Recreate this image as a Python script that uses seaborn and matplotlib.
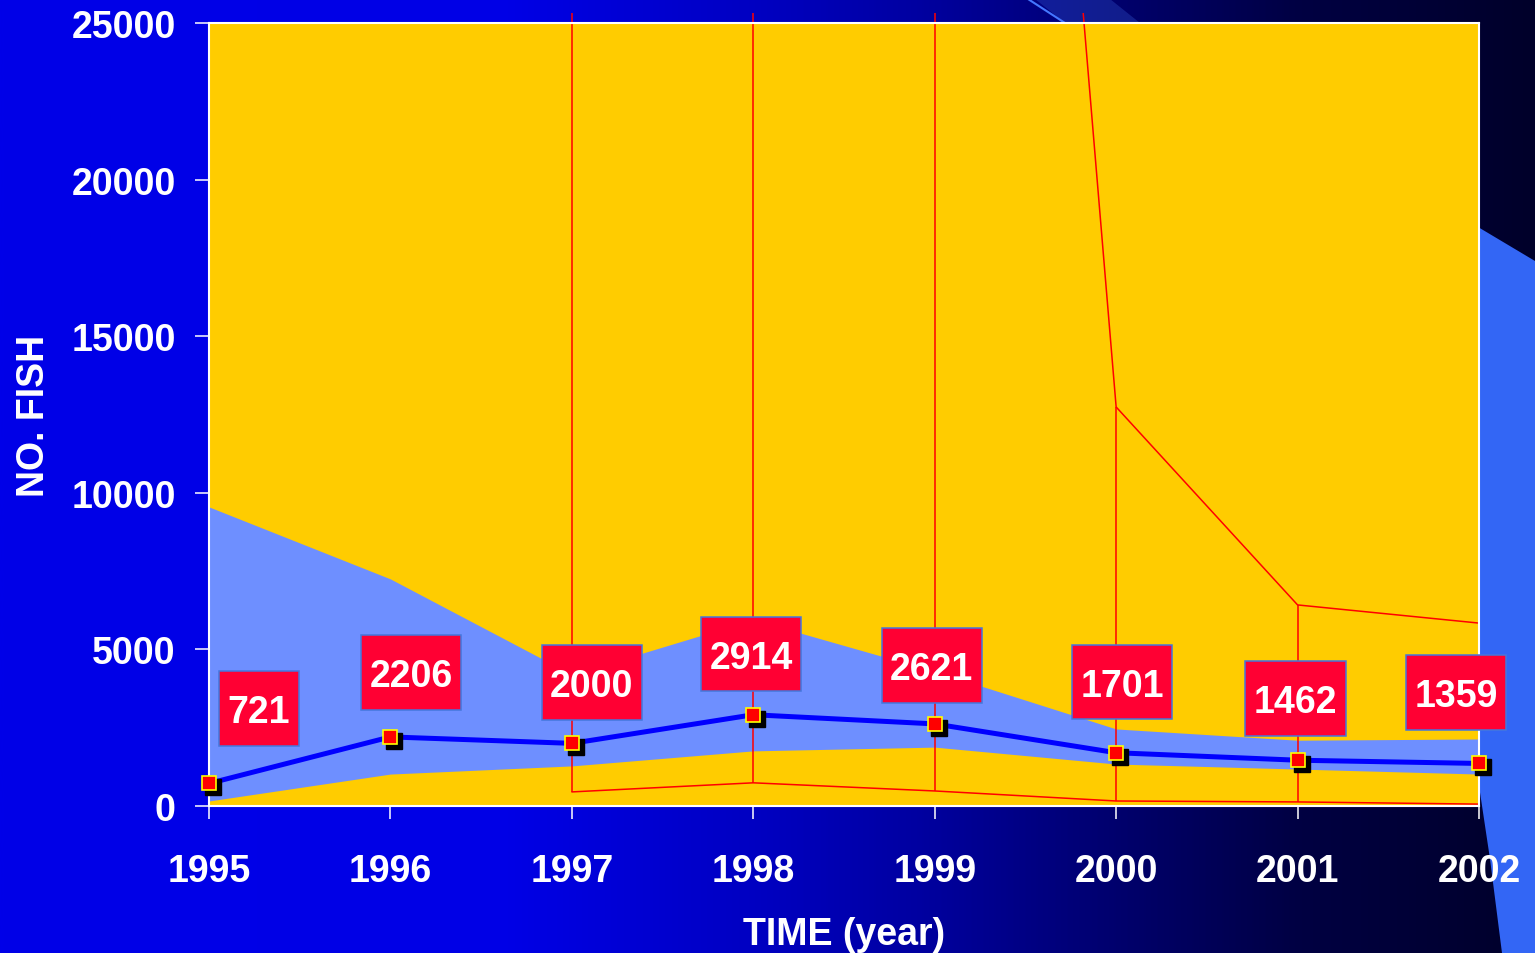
import numpy as np
import matplotlib
matplotlib.use("Agg")
import matplotlib.pyplot as plt
import seaborn as sns
from matplotlib.colors import LinearSegmentedColormap
from matplotlib.patches import Rectangle, Polygon
from matplotlib.path import Path
from matplotlib.transforms import offset_copy

# --- data ---
years = [1995, 1996, 1997, 1998, 1999, 2000, 2001, 2002]
fish = [721, 2206, 2000, 2914, 2621, 1701, 1462, 1359]
band_upper = [9550, 7250, 4200, 5950, 4300, 2460, 2100, 2140]
band_lower = [160, 1020, 1280, 1760, 1880, 1340, 1180, 1020]
red_years = [1997, 1998, 1999, 2000, 2001, 2002]
red_upper = [60000, 70000, 82000, 12740, 6420, 5840]
red_lower = [450, 740, 480, 160, 130, 60]
y_ticks = [0, 5000, 10000, 15000, 20000, 25000]

# label box offsets in pixels from each point (layout only)
label_offsets = [(50, 71), (21, 61), (20, 57), (-2, 57), (-3, 55), (6, 67), (-2, 58), (-23, 67)]

sns.set_theme(style="white")
plt.rcParams['font.family'] = ['Liberation Sans', 'DejaVu Sans']
plt.rcParams['font.weight'] = 'bold'

W, H = 1535, 954
fig = plt.figure(figsize=(W / 100, H / 100), dpi=100)

# background: horizontal blue gradient + light swoosh on the right
bg = fig.add_axes([0, 0, 1, 1], zorder=0)
cmap = LinearSegmentedColormap.from_list("bg", [
    (0.0, (0, 0, 232 / 255)), (0.33, (0, 0, 230 / 255)), (0.5, (0, 0, 192 / 255)),
    (0.6, (0, 0, 160 / 255)), (0.72, (0, 0, 112 / 255)), (0.85, (0, 0, 66 / 255)),
    (1.0, (0, 0, 42 / 255))])
grad = np.linspace(0, 1, 512).reshape(1, -1)
bg.imshow(grad, aspect='auto', extent=[0, W, 0, H], cmap=cmap)
swoosh = [(1478, 228), (1535, 262), (1535, 954), (1502, 954), (1490, 860), (1478, 780)]
bg.add_patch(Polygon([(x, H - y) for x, y in swoosh], closed=True, color='#3366f5', lw=0))
glow = [(1035, 0), (1110, 0), (1140, 24), (1065, 24)]
bg.add_patch(Polygon([(x, H - y) for x, y in glow], closed=True, color='#3355cc', alpha=0.35, lw=0))
bg.plot([1028, 1065], [H, H - 24], color='#4477ff', lw=1.5)
bg.set_xlim(0, W)
bg.set_ylim(0, H)
bg.axis('off')

ax = fig.add_axes([209 / W, 1 - 807 / H, (1479 - 209) / W, (807 - 24) / H], zorder=1)
ax.set_facecolor('#ffcc00')

# confidence band
ax.fill_between(years, band_lower, band_upper, color='#6e8fff', lw=0, zorder=1)

# red interval lines, allowed to run a little above the frame
clip = Rectangle((-0.01, -0.02), 1.02, 1.02 + 10 / 783, transform=ax.transAxes)
l1, = ax.plot(red_years, red_upper, color='#ff0000', lw=1.1, zorder=2)
l2, = ax.plot(red_years, red_lower, color='#ff0000', lw=1.1, zorder=2)
vl = ax.vlines(red_years, red_lower, red_upper, color='#ff0000', lw=1.1, zorder=2)
for art in (l1, l2, vl):
    art.set_clip_path(clip)

# main series
sns.lineplot(x=years, y=fish, color='#0000ff', linewidth=3.6, ax=ax, zorder=3)
shadow = offset_copy(ax.transData, fig=fig, x=4, y=-4, units='dots')
ax.plot(years, fish, linestyle='none', marker='s', markersize=11.5, color='black',
        transform=shadow, zorder=4, clip_on=False)
ax.plot(years, fish, linestyle='none', marker='s', markersize=10.5, markerfacecolor='#ff0000',
        markeredgecolor='#ffff00', markeredgewidth=1.2, zorder=5, clip_on=False)


def label_box(x0, y0, width, height, mutation_size):
    px = 0.225 * mutation_size
    pb = 0.42 * mutation_size
    pt = 0.615 * mutation_size
    verts = [(x0 - px, y0 - pb), (x0 + width + px, y0 - pb),
             (x0 + width + px, y0 + height + pt), (x0 - px, y0 + height + pt),
             (x0 - px, y0 - pb)]
    return Path(verts, closed=True)


for x, v, (dx, dy) in zip(years, fish, label_offsets):
    ax.annotate(str(v), (x, v), xytext=(dx, dy), textcoords='offset pixels',
                ha='center', va='center', fontsize=27, fontweight='bold', color='white',
                bbox=dict(boxstyle=label_box, facecolor='#ff0033', edgecolor='#4477dd', lw=1.1),
                zorder=6, annotation_clip=False)

ax.set_xlim(1995, 2002)
ax.set_ylim(0, 25000)
ax.set_xticks(years)
ax.set_yticks(y_ticks)
ax.set_xticklabels([str(y) for y in years])
ax.set_yticklabels([str(t) for t in y_ticks])
ax.tick_params(axis='x', direction='out', length=9, width=1.1, color='white',
               labelcolor='white', labelsize=27, pad=25, bottom=True)
ax.tick_params(axis='y', direction='out', length=10, width=1.1, color='white',
               labelcolor='white', labelsize=27, pad=14, left=True)
for lab in ax.get_xticklabels() + ax.get_yticklabels():
    lab.set_fontweight('bold')
for sp in ax.spines.values():
    sp.set_color('white')
    sp.set_linewidth(1.5)
    sp.set_visible(True)

ax.set_xlabel('TIME (year)', color='white', fontsize=27, fontweight='bold', labelpad=19)
ax.set_ylabel('NO. FISH', color='white', fontsize=27, fontweight='bold', labelpad=14)

fig.savefig('out.png', dpi=100)
